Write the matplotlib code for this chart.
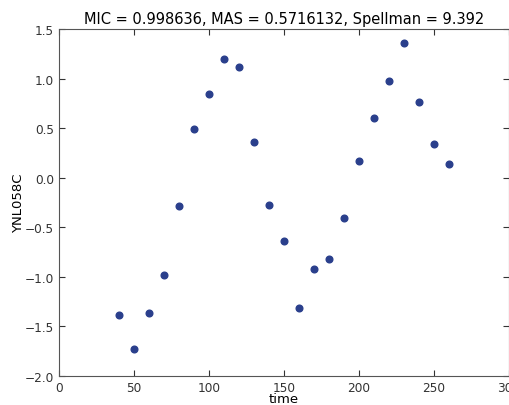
import numpy as np
import matplotlib
matplotlib.use('Agg')
import matplotlib.pyplot as plt

# time points and expression values
time = [40, 50, 60, 70, 80, 90, 100, 110, 120, 130, 140, 150,
        160, 170, 180, 190, 200, 210, 220, 230, 240, 250, 260]
expr = [-1.38, -1.73, -1.36, -0.98, -0.29, 0.49, 0.84, 1.20, 1.12, 0.36, -0.28, -0.64,
        -1.31, -0.92, -0.82, -0.41, 0.17, 0.60, 0.98, 1.36, 0.76, 0.34, 0.14]
title = 'MIC = 0.998636, MAS = 0.5716132, Spellman = 9.392'

fig = plt.figure(figsize=(5.1, 4.06), dpi=100)
ax = fig.add_axes([59 / 510, 1 - 377 / 406, 450 / 510, 347 / 406])

ax.plot(time, expr, 'o', color='#2a3f8c', markersize=4.8, markeredgecolor='#2a3f8c')

ax.set_xlim(0, 300)
ax.set_ylim(-2.0, 1.5)
ax.set_xticks(np.arange(0, 301, 50))
ax.set_yticks(np.arange(-2.0, 1.51, 0.5))
ax.tick_params(direction='in', top=True, right=True, length=4, labelsize=8.7, colors='#333333')
for s in ax.spines.values():
    s.set_color('#555555')

ax.set_title(title, fontsize=10.5, pad=4)
ax.set_xlabel('time', fontsize=9.5, labelpad=-1)
ax.set_ylabel('YNL058C', fontsize=9.5, labelpad=0)

fig.savefig('out.png', dpi=100)
